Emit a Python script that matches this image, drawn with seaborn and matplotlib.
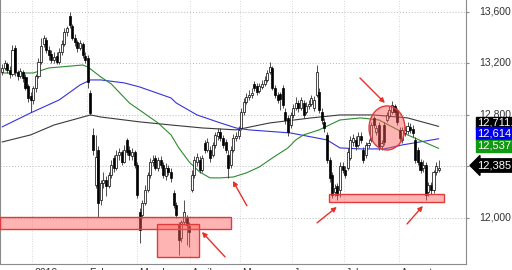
import numpy as np
import pandas as pd
import matplotlib
matplotlib.use("Agg")
import matplotlib.pyplot as plt
import matplotlib.transforms as mtransforms
from matplotlib.patches import Rectangle, Ellipse
import seaborn as sns

sns.set_style("white")
plt.rcParams['font.family'] = ['Liberation Sans', 'DejaVu Sans']

# ---------------- data (daily OHLC) ----------------
opens = [
    13134, 13165, 13196, 13149, 13118, 13320, 13134, 13103, 13134, 13095,
    13025, 12947, 12916, 13010, 13103, 13211, 13351, 13382, 13305, 13274,
    13227, 13258, 13211, 13289, 13351, 13444, 13569, 13491, 13398, 13367,
    13320, 13351, 13258, 13243, 12971, 12644, 12256, 12528, 12140, 12272,
    12295, 12248, 12334, 12466, 12388, 12489, 12512, 12435, 12606, 12528,
    12481, 12512, 12411, 12046, 12023, 12116, 12217, 12334, 12435, 12466,
    12388, 12450, 12411, 12326, 12388, 12357, 12194, 12101, 11945, 11844,
    11969, 12000, 11938, 12217, 12334, 12435, 12450, 12373, 12582, 12528,
    12528, 12489, 12567, 12637, 12668, 12621, 12590, 12489, 12411, 12528,
    12621, 12637, 12699, 12823, 12901, 12940, 12955, 13041, 13025, 12986,
    13017, 13041, 13072, 13134, 13165, 13010, 12955, 12963, 13010, 12823,
    12777, 12722, 12800, 12854, 12893, 12854, 12893, 12823, 12870, 12885,
    12854, 12955, 12978, 12823, 12745, 12644, 12450, 12334, 12202, 12248,
    12217, 12404, 12373, 12388, 12466, 12590, 12606, 12567, 12637, 12528,
    12489, 12567, 12606, 12777, 12668, 12722, 12559, 12722, 12761, 12792,
    12823, 12870, 12839, 12683, 12606, 12660, 12676, 12707, 12691, 12606,
    12528, 12435, 12388, 12411, 12202, 12256, 12217, 12357, 12373]
closes = [
    13165, 13204, 13149, 13118, 13305, 13134, 13103, 13142, 13087, 13010,
    12932, 12916, 13010, 13103, 13211, 13336, 13398, 13305, 13266, 13227,
    13250, 13211, 13289, 13351, 13444, 13476, 13499, 13398, 13367, 13320,
    13359, 13266, 13227, 13056, 12815, 12528, 12474, 12116, 12272, 12295,
    12248, 12334, 12411, 12388, 12489, 12512, 12435, 12528, 12512, 12489,
    12512, 12411, 12178, 11907, 12116, 12217, 12334, 12435, 12450, 12388,
    12450, 12411, 12334, 12388, 12357, 12310, 12101, 12023, 11829, 11969,
    12046, 11945, 11891, 12334, 12450, 12474, 12373, 12466, 12528, 12590,
    12466, 12567, 12644, 12668, 12621, 12567, 12528, 12388, 12528, 12621,
    12637, 12683, 12823, 12901, 12940, 12955, 12971, 13010, 12978, 13025,
    13041, 13072, 13126, 13173, 13010, 12955, 12916, 12924, 12877, 12761,
    12668, 12800, 12854, 12893, 12854, 12916, 12800, 12870, 12885, 12932,
    12916, 13134, 12839, 12761, 12699, 12450, 12310, 12178, 12233, 12178,
    12404, 12373, 12334, 12512, 12606, 12621, 12559, 12637, 12606, 12450,
    12567, 12582, 12722, 12722, 12699, 12551, 12582, 12590, 12800, 12839,
    12877, 12823, 12745, 12621, 12683, 12683, 12714, 12683, 12660, 12450,
    12435, 12373, 12411, 12178, 12256, 12217, 12357, 12404, 12386]
highs = [
    13196, 13227, 13211, 13180, 13344, 13344, 13149, 13165, 13149, 13118,
    13041, 12978, 13025, 13118, 13243, 13398, 13421, 13406, 13336, 13305,
    13289, 13289, 13320, 13382, 13476, 13491, 13600, 13507, 13429, 13382,
    13382, 13367, 13289, 13266, 12994, 12699, 12644, 12559, 12295, 12357,
    12326, 12357, 12450, 12489, 12528, 12543, 12528, 12567, 12621, 12559,
    12543, 12528, 12435, 12077, 12140, 12256, 12357, 12466, 12489, 12489,
    12474, 12481, 12435, 12427, 12411, 12388, 12217, 12124, 11969, 11984,
    12140, 12023, 11969, 12373, 12481, 12505, 12481, 12489, 12606, 12621,
    12559, 12590, 12668, 12699, 12699, 12644, 12613, 12528, 12559, 12652,
    12668, 12714, 12854, 12932, 12971, 12994, 13010, 13064, 13048, 13048,
    13072, 13103, 13149, 13211, 13180, 13033, 12978, 12978, 13033, 12854,
    12800, 12823, 12885, 12940, 12916, 12940, 12916, 12901, 12916, 12955,
    12947, 13188, 13010, 12854, 12777, 12668, 12474, 12357, 12264, 12272,
    12435, 12435, 12404, 12543, 12637, 12652, 12637, 12668, 12668, 12551,
    12590, 12613, 12745, 12792, 12722, 12745, 12606, 12745, 12823, 12870,
    12909, 12885, 12854, 12707, 12707, 12714, 12745, 12738, 12722, 12629,
    12551, 12458, 12450, 12435, 12279, 12279, 12373, 12435, 12450]
lows = [
    13110, 13149, 13126, 13087, 13103, 13103, 13072, 13087, 13056, 12994,
    12901, 12823, 12885, 12978, 13087, 13196, 13328, 13281, 13227, 13204,
    13204, 13196, 13196, 13266, 13336, 13413, 13476, 13382, 13336, 13289,
    13305, 13243, 13204, 13010, 12800, 12489, 12233, 12008, 12101, 12233,
    12171, 12233, 12310, 12357, 12373, 12450, 12411, 12427, 12489, 12450,
    12450, 12388, 12155, 11806, 12000, 12101, 12202, 12310, 12404, 12373,
    12365, 12388, 12310, 12295, 12334, 12279, 12077, 12000, 11712, 11813,
    11945, 11790, 11775, 12202, 12310, 12404, 12349, 12357, 12505, 12512,
    12435, 12474, 12543, 12606, 12598, 12543, 12505, 12310, 12388, 12512,
    12598, 12613, 12683, 12800, 12885, 12916, 12932, 12986, 12955, 12971,
    13002, 13025, 13056, 13118, 12994, 12932, 12893, 12839, 12854, 12730,
    12637, 12699, 12777, 12839, 12823, 12839, 12777, 12808, 12846, 12870,
    12831, 12940, 12815, 12730, 12668, 12427, 12279, 12155, 12171, 12140,
    12163, 12349, 12310, 12373, 12450, 12559, 12528, 12551, 12582, 12427,
    12466, 12543, 12590, 12699, 12644, 12528, 12528, 12567, 12745, 12777,
    12808, 12800, 12722, 12598, 12582, 12637, 12652, 12660, 12629, 12427,
    12411, 12349, 12357, 12140, 12171, 12186, 12194, 12334, 12357]

# moving averages, read at sampled bars
green_x = [0, 12, 18, 31, 33, 38, 42, 49, 60, 65, 68, 72, 76, 80, 84, 89, 94, 99,
           104, 110, 113, 116, 122, 130, 138, 145, 156, 168]
green_y = [13126, 13126, 13165, 13188, 13173, 13095, 13041, 12893, 12738, 12645,
           12544, 12435, 12357, 12311, 12311, 12318, 12350, 12396, 12466, 12544,
           12606, 12645, 12684, 12761, 12777, 12761, 12645, 12540]
blue_x = [0, 11, 22, 30, 34, 38, 47, 53, 65, 67, 75, 84, 90, 95, 111, 125, 130,
          138, 147, 154, 168]
blue_y = [12707, 12816, 12917, 13033, 13072, 13072, 13049, 13017, 12932, 12893,
          12800, 12738, 12699, 12684, 12660, 12606, 12544, 12536, 12536, 12567, 12615]
black_x = [0, 11, 20, 34, 38, 53, 65, 77, 90, 103, 119, 130, 143, 156, 168]
black_y = [12590, 12645, 12722, 12800, 12784, 12746, 12722, 12699, 12684, 12738,
           12777, 12800, 12800, 12777, 12711]

# axis labels
month_pos = [11.5, 32.7, 51.9, 72.3, 91.5, 111.5, 131.5, 152.7]
month_labels = ["2019", "February", "March", "April", "May", "June", "July", "August"]
y_ticks = [12000, 12400, 12800, 13200, 13600]
y_labels = ["12,000", "", "12,800", "13,200", "13,600"]

# last values shown at right edge
ma_last = [12711.4, 12614.9, 12537.2]
last_price = 12385.7

# annotation zones (support/resistance) and arrows
zone_x0 = [-0.8, 59.6, 125.8]
zone_x1 = [88.1, 75.8, 170.0]
zone_lo = [11915, 11697, 12124]
zone_hi = [12008, 11953, 12186]
circle_center = (148.1, 12699)
circle_size = (13.8, 342)
arrow_from = [(85.8, 11697), (94.2, 12094), (121.2, 11962), (155.8, 11953), (137.7, 13087)]
arrow_to = [(76.9, 11891), (88.8, 12288), (128.8, 12085), (161.9, 12093), (147.3, 12893)]

# ---------------- figure ----------------
df = pd.DataFrame({"open": opens, "high": highs, "low": lows, "close": closes})
df["i"] = np.arange(len(df))
df["up"] = df["close"] >= df["open"]

fig = plt.figure(figsize=(5.12, 2.70), dpi=100)
ax = fig.add_axes([0, 6 / 270, 466 / 512, 264 / 270])
ax.set_xlim(-0.8, 178.5)
ax.set_ylim(11642, 13693)

# grid
for yv in y_ticks:
    ax.axhline(yv, color="#b8b8b8", lw=0.7, ls=(0, (1, 2)), zorder=0)
for xv in month_pos:
    ax.axvline(xv, color="#cccccc", lw=0.6, ls=(0, (1, 2)), zorder=0)

# moving averages (seaborn)
sns.lineplot(x=black_x, y=black_y, ax=ax, color="#3a3a3a", lw=0.8, zorder=2)
sns.lineplot(x=blue_x, y=blue_y, ax=ax, color="#3333dd", lw=0.8, zorder=2)
sns.lineplot(x=green_x, y=green_y, ax=ax, color="#2e8b2e", lw=0.8, zorder=2)

# candles
ax.vlines(df["i"], df["low"], df["high"], color="#333333", lw=0.6, zorder=3)
w = 0.8
for _, r in df.iterrows():
    lo = min(r["open"], r["close"])
    h = max(abs(r["close"] - r["open"]), 6)
    ax.add_patch(Rectangle((r["i"] - w / 2, lo), w, h,
                           facecolor="white" if r["up"] else "black",
                           edgecolor="black", lw=0.5, zorder=4))

# zones
for x0, x1, lo, hi in zip(zone_x0, zone_x1, zone_lo, zone_hi):
    ax.add_patch(Rectangle((x0, lo), x1 - x0, hi - lo, facecolor=(1, 0.35, 0.35, 0.45),
                           edgecolor="#e03a3a", lw=1.0, zorder=5))
ax.add_patch(Ellipse(circle_center, circle_size[0], circle_size[1],
                     facecolor=(1, 0.35, 0.35, 0.45), edgecolor="#e03a3a", lw=1.0, zorder=5))
for (xf, yf), (xt, yt) in zip(arrow_from, arrow_to):
    ax.annotate("", xy=(xt, yt), xytext=(xf, yf),
                arrowprops=dict(arrowstyle="-|>", color="#e8302a", lw=1.0,
                                mutation_scale=7, shrinkA=0, shrinkB=0), zorder=6)

# axes styling
ax.spines["top"].set_visible(False)
for s in ["right", "bottom", "left"]:
    ax.spines[s].set_color("#8a8a8a")
    ax.spines[s].set_linewidth(0.8)

ax.yaxis.tick_right()
ax.set_yticks(y_ticks)
ax.set_yticklabels(y_labels)
ax.tick_params(axis="y", direction="out", length=2.5, pad=7, labelsize=7.5,
               colors="#8a8a8a", labelcolor="#333333")
yoffs = mtransforms.ScaledTranslation(0, 1.5 / 100, fig.dpi_scale_trans)
for lbl in ax.get_yticklabels():
    lbl.set_transform(lbl.get_transform() + yoffs)
ax.set_xticks(month_pos)
ax.set_xticklabels(month_labels)
ax.tick_params(axis="x", direction="out", length=5, pad=-2, labelsize=7.5,
               colors="#8a8a8a", labelcolor="#333333")
offs = mtransforms.ScaledTranslation(2 / 100, 0, fig.dpi_scale_trans)
for lbl in ax.get_xticklabels():
    lbl.set_ha("left")
    lbl.set_transform(lbl.get_transform() + offs)
ax.set_xlabel("")
ax.set_ylabel("")

# right-edge value boxes
trans = mtransforms.blended_transform_factory(ax.transAxes, ax.transData)
box_colors = ["#000000", "#0000ee", "#119911"]
box_offsets = [2.5, 4, 2]
for val, c, off in zip(ma_last, box_colors, box_offsets):
    ax.annotate(f"{val:,.1f}", xy=(1.0, val), xycoords=trans, xytext=(8, off),
                textcoords="offset points", ha="left", va="center", fontsize=8,
                color="white", annotation_clip=False, zorder=10,
                bbox=dict(boxstyle="square,pad=0.12", fc=c, ec=c))
ax.annotate(f"{last_price:,.1f}", xy=(1.0, last_price), xycoords=trans, xytext=(8, 2),
            textcoords="offset points", ha="left", va="center", fontsize=8,
            color="white", annotation_clip=False, zorder=10,
            bbox=dict(boxstyle="larrow,pad=0.15", fc="black", ec="black"))

fig.savefig("out.png", dpi=100)
